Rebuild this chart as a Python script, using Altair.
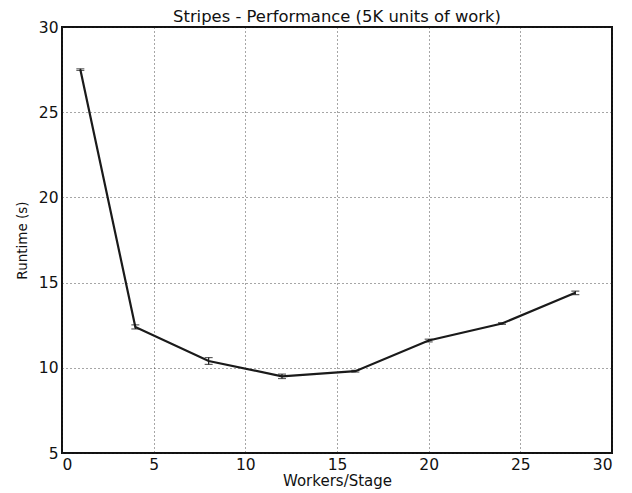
import altair as alt
import pandas as pd

workers = [1, 4, 8, 12, 16, 20, 24, 28]
runtime = [27.5, 12.4, 10.4, 9.5, 9.8, 11.6, 12.6, 14.4]
err = [0.05, 0.12, 0.2, 0.13, 0.05, 0.08, 0.05, 0.1]
x_ticks = [0, 5, 10, 15, 20, 25, 30]
y_ticks = [5, 10, 15, 20, 25, 30]
title_text = "Stripes - Performance (5K units of work)"

df = pd.DataFrame({"w": workers, "r": runtime, "e": err})
df["lo"] = df["r"] - df["e"]
df["hi"] = df["r"] + df["e"]

FONT = "DejaVu Sans"

x = alt.X("w:Q", scale=alt.Scale(domain=[0, 30], nice=False),
          axis=alt.Axis(values=x_ticks, title="Workers/Stage", format="d"))
y = alt.Y("r:Q", scale=alt.Scale(domain=[5, 30], nice=False, zero=False),
          axis=alt.Axis(values=y_ticks, title="Runtime (s)", format="d"))

line = alt.Chart(df).mark_line(color="#1a1a1a", strokeWidth=2.2).encode(x=x, y=y)
bars = alt.Chart(df).mark_errorbar(ticks={"size": 8, "color": "#1a1a1a"}, color="#1a1a1a", thickness=1.2).encode(
    x=alt.X("w:Q"), y=alt.Y("lo:Q", title="Runtime (s)"), y2="hi:Q")
title = alt.Chart(pd.DataFrame({"t": [title_text]})).mark_text(
    font=FONT, fontSize=16.4, color="#111111", baseline="alphabetic", align="center"
).encode(text="t:N", x=alt.value(275), y=alt.value(-5))

chart = alt.layer(line, bars, title).properties(
    width=550, height=426,
    autosize=alt.AutoSizeParams(type="none"),
    padding={"left": 54, "top": 19, "right": 12, "bottom": 40},
).configure_view(stroke="#111111", strokeWidth=2).configure_axis(
    grid=True, gridColor="#222222", gridDash=[1, 3], gridOpacity=0.8, gridWidth=1,
    domain=False, ticks=False, labelFont=FONT, labelFontSize=15.5, labelColor="#111111",
    titleFont=FONT, titleFontWeight="normal", titleColor="#111111",
    labelPadding=4,
).configure_axisY(titlePadding=9, titleFontSize=13.5).configure_axisX(titlePadding=1, titleFontSize=15)

chart.save("out.html", embed_options={"renderer": "svg", "actions": False})
